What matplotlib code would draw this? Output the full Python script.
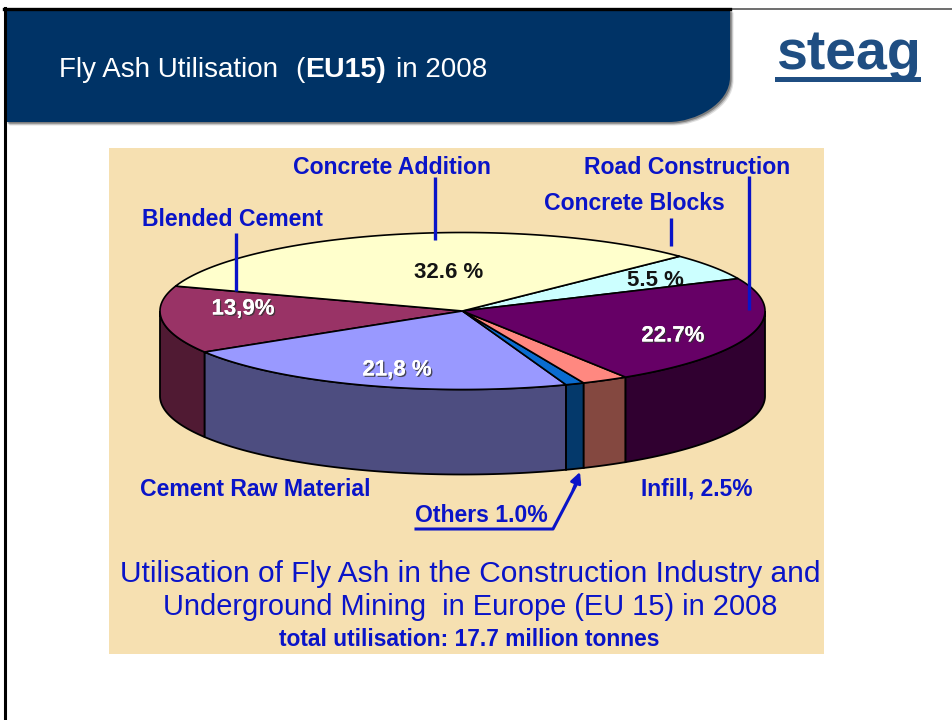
import numpy as np
import matplotlib
matplotlib.use('Agg')
import matplotlib.pyplot as plt
from matplotlib.patches import Polygon, Rectangle, PathPatch
from matplotlib.path import Path
import matplotlib.patheffects as pe

plt.rcParams['font.family'] = ['Liberation Sans', 'DejaVu Sans']

# slices, counter-clockwise starting from the concrete addition / blended cement edge
categories = ['Blended Cement', 'Cement Raw Material', 'Others', 'Infill',
              'Road Construction', 'Concrete Blocks', 'Concrete Addition']
values = [13.9, 21.8, 1.0, 2.5, 22.7, 5.5, 32.6]
top_colors = ['#993366', '#9999FF', '#0A6CD0', '#FF8880', '#660066', '#CCFFFF', '#FFFFCC']
side_colors = ['#501A33', '#4D4D80', '#04396B', '#844840', '#300030', '#668080', '#808066']
value_labels = ['13,9%', '21,8 %', '', '', '22.7%', '5.5 %', '32.6 %']

BLUE = '#0A14C8'
NAVY = '#003366'
CX, CY, RX, RY, DEPTH = 462.5, 311, 302.5, 78.5, 85
START = 161.5


def rim(a0, a1, dy=0):
    t = np.radians(np.linspace(a0, a1, max(int(abs(a1 - a0)) * 2, 2)))
    return np.column_stack([CX + RX * np.cos(t), CY - RY * np.sin(t) + dy])


fig = plt.figure(figsize=(9.53, 7.2), dpi=100)
ax = fig.add_axes([0, 0, 1, 1])
ax.set_xlim(0, 953)
ax.set_ylim(720, 0)
ax.axis('off')

# slide frame
ax.plot([953, 730], [8.5, 8.5], color='#555555', lw=1.2, zorder=1)
ax.plot([5, 5], [720, 8], color='black', lw=2.2, zorder=6)
ax.plot([4, 730], [8.5, 8.5], color='black', lw=2.4, zorder=6)


def header(dx=0, dy=0, **kw):
    verts = [(6, 9), (730, 9), (730, 77), (730, 104), (695, 122), (669, 122), (6, 122), (6, 9)]
    codes = [Path.MOVETO, Path.LINETO, Path.LINETO, Path.CURVE4, Path.CURVE4, Path.CURVE4,
             Path.LINETO, Path.CLOSEPOLY]
    verts = [(x + dx, y + dy) for x, y in verts]
    ax.add_patch(PathPatch(Path(verts, codes), lw=0, **kw))


for off, al in [(3.5, 0.12), (2.5, 0.2), (1.5, 0.3)]:
    header(off, off, facecolor='black', alpha=al, zorder=2)
header(facecolor=NAVY, zorder=3)

ax.text(59, 77, 'Fly Ash Utilisation', color='white', fontsize=20, zorder=4)
ax.text(295, 77, '(', color='white', fontsize=20, zorder=4)
ax.text(305, 77, 'EU15)', color='white', fontsize=20.5, fontweight='bold', zorder=4)
ax.text(396, 77, 'in 2008', color='white', fontsize=20, zorder=4)

# logo
ax.text(848, 69, 'steag', color='#1F4E82', fontsize=40, fontweight='bold', ha='center', zorder=4)
ax.add_patch(Rectangle((775, 77), 146, 4.5, facecolor='#1F4E82', lw=0, zorder=4))

# picture background
ax.add_patch(Rectangle((109, 148), 715, 506, facecolor='#F6E0B1', lw=0, zorder=1))

# pie: angles come from the values
edges = START + np.cumsum([0] + values) * 3.6
for i, cat in enumerate(categories):
    # front wall, only the part facing the viewer
    s0 = max(edges[i], 180)
    s1 = min(edges[i + 1], 360)
    if s1 > s0:
        top = rim(s0, s1)
        bot = rim(s1, s0, DEPTH)
        ax.add_patch(Polygon(np.vstack([top, bot]), closed=True, facecolor=side_colors[i],
                             edgecolor='black', lw=1.3, zorder=2))

for i, cat in enumerate(categories):
    pts = np.vstack([[CX, CY], rim(edges[i], edges[i + 1])])
    z = 4 if cat == 'Road Construction' else 2
    ax.add_patch(Polygon(pts, closed=True, facecolor=top_colors[i], edgecolor='black',
                         lw=1.2, zorder=z))

# value labels on the slices
value_pos = {'21,8 %': (397, 370), '22.7%': (673, 336), '5.5 %': (655, 281),
             '32.6 %': (449, 273), '13,9%': (243, 309)}
for lab in value_labels:
    if not lab:
        continue
    x, y = value_pos[lab]
    if lab in ('5.5 %', '32.6 %'):
        ax.text(x, y, lab, color='#141414', fontsize=16, fontweight='bold',
                ha='center', va='center', zorder=3)
    else:
        t = ax.text(x, y, lab, color='white', fontsize=16, fontweight='bold',
                    ha='center', va='center', zorder=5)
        t.set_path_effects([pe.withSimplePatchShadow(offset=(1, -1), shadow_rgbFace='#333333', alpha=0.8),
                            pe.Normal()])

# category labels
label_pos = {'Concrete Addition': (392, 167), 'Road Construction': (687, 167),
             'Concrete Blocks': (634, 204), 'Blended Cement': (232, 219),
             'Cement Raw Material': (255, 489)}
for name, (x, y) in label_pos.items():
    ax.text(x, y, name, color=BLUE, fontsize=16.6, fontweight='bold', ha='center', va='center', zorder=5)
ax.text(697, 489, 'Infill, 2.5%', color=BLUE, fontsize=16.4, fontweight='bold', ha='center', va='center', zorder=5)
ax.text(481, 516, 'Others 1.0%', color=BLUE, fontsize=16.6, fontweight='bold', ha='center', va='center', zorder=5)

# leader lines
for xs, ys in [([435, 435], [177, 240]), ([236.5, 236.5], [233, 291]),
               ([671, 671], [218, 246]), ([749, 749], [176, 310])]:
    ax.plot(xs, ys, color=BLUE, lw=2.4, solid_capstyle='butt', zorder=5)
ax.plot([416, 553, 576], [529, 529, 485], color=BLUE, lw=2.2, zorder=5)
ax.annotate('', xy=(580, 472), xytext=(573, 490), zorder=5,
            arrowprops=dict(arrowstyle='-|>', color=BLUE, lw=2, mutation_scale=16,
                            shrinkA=0, shrinkB=0))

# picture captions
ax.text(470, 574, 'Utilisation of Fly Ash in the Construction Industry and', color=BLUE,
        fontsize=21.5, ha='center', va='center', zorder=5)
ax.text(470, 607, 'Underground Mining  in Europe (EU 15) in 2008', color=BLUE,
        fontsize=20.9, ha='center', va='center', zorder=5)
ax.text(469, 640, 'total utilisation: 17.7 million tonnes', color=BLUE,
        fontsize=16.4, fontweight='bold', ha='center', va='center', zorder=5)

fig.savefig('out.png', dpi=100)
